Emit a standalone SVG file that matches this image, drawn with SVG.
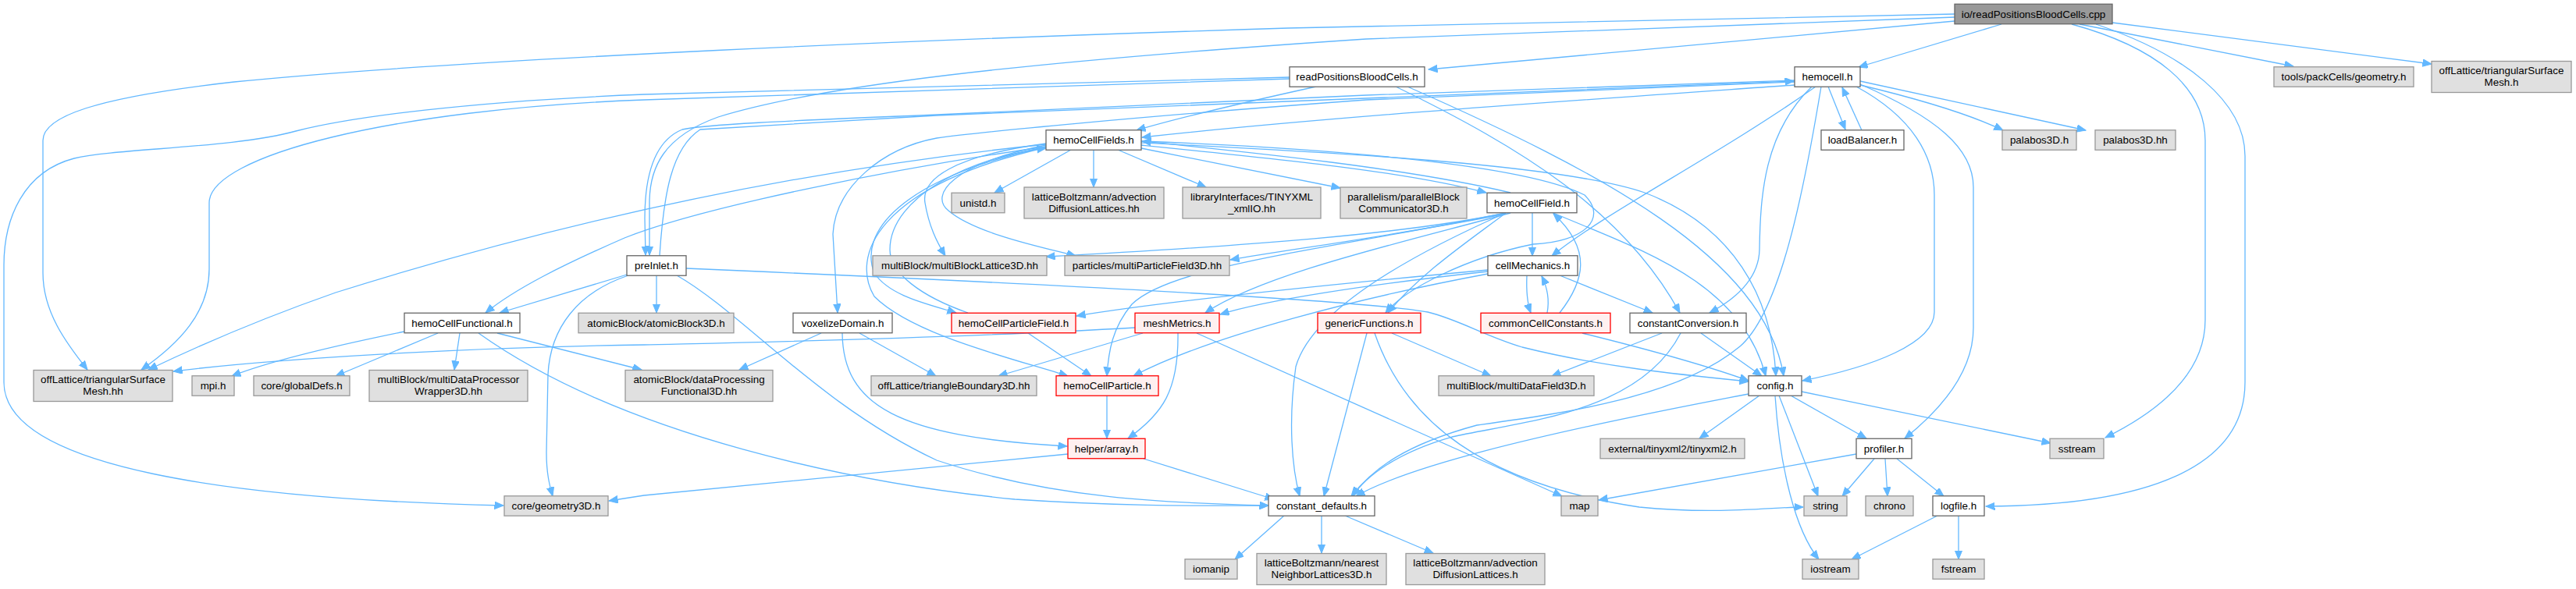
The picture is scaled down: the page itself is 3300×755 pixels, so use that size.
<svg xmlns="http://www.w3.org/2000/svg" width="3300" height="755" viewBox="0 0 3300 755">
<style>
.e{fill:none;stroke:#63b8ff;stroke-width:1.3;marker-end:url(#ah)}
.n rect{stroke-width:1.3}
.w rect{fill:#ffffff;stroke:#666666}
.x rect{fill:#e0e0e0;stroke:#999999}
.r rect{fill:#fff0f0;stroke:#ff0000}
.m rect{fill:#999999;stroke:#666666}
text{font-family:"Liberation Sans",Arial,Helvetica,sans-serif;font-size:13.4px;fill:#000000;text-anchor:middle}
</style>
<defs>
<marker id="ah" markerWidth="13" markerHeight="11" refX="11.5" refY="4.75" orient="auto" markerUnits="userSpaceOnUse">
<path d="M0,0 L11.5,4.75 L0,9.5 z" fill="#63b8ff" stroke="#63b8ff" stroke-width="1"/>
</marker>
</defs>
<rect width="3300" height="755" fill="#ffffff"/>
<g id="edges">
<path class="e" d="M2504,27 L1830,89"/>
<path class="e" d="M2564,31 L2381,86"/>
<path class="e" d="M2664,31 L2938,85"/>
<path class="e" d="M2706,29 L3115,82"/>
<path class="e" d="M2654,31 C2760,60 2825,110 2825,180 L2825,410 C2825,470 2780,520 2697,561"/>
<path class="e" d="M2685,31 C2800,70 2876,130 2876,200 L2876,490 C2876,600 2750,648 2544,649"/>
<path class="e" d="M2504,22 L1750,50 C1300,80 1050,110 920,150 C850,175 832,215 832,260 L832,327"/>
<path class="e" d="M2504,18 L1650,36 C1200,50 600,75 300,105 C120,125 55,150 55,180 L55,350 C55,400 85,440 112,474"/>
<path class="e" d="M1686,111 C1600,130 1520,148 1456,167"/>
<path class="e" d="M1652,101 L825,128 C500,140 268,200 268,260 L268,345 C268,400 230,440 181,474"/>
<path class="e" d="M1652,99 L825,121 C600,130 450,150 379,168 C300,190 150,190 95,203 C30,220 5,280 5,340 L5,490 C5,600 300,640 645,648"/>
<path class="e" d="M1788,111 C1950,190 2080,270 2152,401"/>
<path class="e" d="M1803,111 C2050,220 2260,330 2285,482"/>
<path class="e" d="M2299,109 C2000,130 1700,150 1463,176"/>
<path class="e" d="M2342,111 L2364,166"/>
<path class="e" d="M2385,167 L2360,112"/>
<path class="e" d="M2383,109 C2450,125 2520,145 2566,167"/>
<path class="e" d="M2383,104 L2672,167"/>
<path class="e" d="M2326,111 C2200,200 2060,270 1988,328"/>
<path class="e" d="M2321,111 C2260,170 2255,250 2254,320 C2253,360 2220,385 2190,401"/>
<path class="e" d="M2378,111 C2450,150 2478,200 2478,250 L2478,400 C2478,440 2400,470 2309,488"/>
<path class="e" d="M2383,108 C2480,150 2528,190 2528,240 L2528,420 C2528,480 2480,530 2440,562"/>
<path class="e" d="M2299,103 L1750,122 L1200,147 C1000,155 900,160 874,166 C840,180 826,220 826,280 L827,327"/>
<path class="e" d="M845,328 C850,250 860,190 897,166 L1200,148 L2298,104"/>
<path class="e" d="M2299,105 L1750,128 C1450,150 1250,170 1200,177 C1130,190 1070,240 1067,300 L1073,401"/>
<path class="e" d="M2333,111 C2310,250 2280,400 2229,444 C2150,510 2000,530 1892,545 C1800,570 1760,600 1731,636"/>
<path class="e" d="M1372,192 L1274,247"/>
<path class="e" d="M1401,192 L1401,240"/>
<path class="e" d="M1432,192 L1545,240"/>
<path class="e" d="M1462,190 L1717,241"/>
<path class="e" d="M1462,186 C1650,205 1800,220 1904,247"/>
<path class="e" d="M1935,247 C1800,215 1600,195 1463,181"/>
<path class="e" d="M1340,184 C1220,200 1180,230 1185,260 C1190,290 1200,310 1211,328"/>
<path class="e" d="M1340,186 C1220,210 1190,250 1215,270 C1250,300 1340,318 1378,328"/>
<path class="e" d="M1340,188 C1150,215 900,265 800,305 C720,340 660,370 622,401"/>
<path class="e" d="M1340,185 C1000,220 700,290 430,375 C330,410 240,450 190,474"/>
<path class="e" d="M1340,188 C1150,230 1100,300 1120,350 C1140,380 1190,390 1225,401"/>
<path class="e" d="M1240,401 C1180,380 1140,350 1140,320 C1140,250 1250,200 1340,190"/>
<path class="e" d="M1340,189 C1120,240 1090,330 1120,380 C1170,430 1300,460 1368,482"/>
<path class="e" d="M1462,183 C1700,195 2000,210 2107,247 C2220,290 2270,380 2275,482"/>
<path class="e" d="M1462,181 C1700,190 1950,210 2030,250 C2060,280 2030,310 1964,313 C1880,330 1800,370 1775,401"/>
<path class="e" d="M1963,273 L1963,328"/>
<path class="e" d="M1929,273 C1800,300 1600,315 1340,329"/>
<path class="e" d="M1929,274 C1800,300 1650,320 1576,333"/>
<path class="e" d="M1929,273 C1880,310 1820,350 1778,401"/>
<path class="e" d="M1935,273 C1800,310 1620,350 1544,401"/>
<path class="e" d="M1929,273 C1700,320 1500,340 1450,390 C1425,420 1420,450 1418,482"/>
<path class="e" d="M1990,273 C2100,320 2230,360 2262,482"/>
<path class="e" d="M1929,273 C1800,330 1680,400 1660,470 C1650,540 1655,600 1665,636"/>
<path class="e" d="M1906,346 C1700,365 1500,385 1379,405"/>
<path class="e" d="M1906,348 C1750,365 1620,385 1563,403"/>
<path class="e" d="M1906,351 C1750,380 1550,430 1452,482"/>
<path class="e" d="M1956,353 C1955,375 1957,390 1961,401"/>
<path class="e" d="M1982,401 C1985,385 1983,370 1975,354"/>
<path class="e" d="M1998,401 C2030,360 2040,320 1990,274"/>
<path class="e" d="M1998,353 L2117,401"/>
<path class="e" d="M2027,427 C2120,450 2190,470 2240,488"/>
<path class="e" d="M2129,427 L1988,482"/>
<path class="e" d="M2179,427 L2257,482"/>
<path class="e" d="M2153,427 C2100,530 1950,540 1860,560 C1790,580 1750,610 1733,636"/>
<path class="e" d="M1783,427 L1910,482"/>
<path class="e" d="M1751,427 L1696,636"/>
<path class="e" d="M1761,427 C1800,540 1900,620 2100,650 C2200,660 2270,650 2310,650"/>
<path class="e" d="M1454,420 C1200,435 900,440 825,442 C600,445 350,460 222,476"/>
<path class="e" d="M1464,427 L1279,482"/>
<path class="e" d="M1509,427 C1510,500 1490,530 1445,562"/>
<path class="e" d="M1533,427 L2001,636"/>
<path class="e" d="M1317,427 L1398,482"/>
<path class="e" d="M1052,427 L947,474"/>
<path class="e" d="M1101,427 L1199,482"/>
<path class="e" d="M1079,427 C1080,520 1150,560 1367,572"/>
<path class="e" d="M1418,507 L1418,562"/>
<path class="e" d="M1368,582 L825,635 L780,642"/>
<path class="e" d="M1465,588 L1632,640"/>
<path class="e" d="M803,352 L640,401"/>
<path class="e" d="M841,353 L841,401"/>
<path class="e" d="M805,353 C740,375 705,420 702,480 L700,580 C700,610 705,625 708,636"/>
<path class="e" d="M867,353 C950,400 1050,520 1200,590 C1350,640 1500,645 1625,648"/>
<path class="e" d="M879,344 C1300,362 1750,385 1829,400 C1870,410 1900,430 1950,445 C2050,470 2150,480 2240,489"/>
<path class="e" d="M518,425 C420,445 340,465 297,482"/>
<path class="e" d="M561,427 L430,482"/>
<path class="e" d="M589,427 L582,474"/>
<path class="e" d="M637,427 L822,474"/>
<path class="e" d="M613,427 C800,560 1100,620 1300,640 C1450,650 1550,648 1625,648"/>
<path class="e" d="M2254,507 L2177,562"/>
<path class="e" d="M2294,507 L2391,562"/>
<path class="e" d="M2279,507 L2329,636"/>
<path class="e" d="M2274,507 C2280,600 2300,680 2330,717"/>
<path class="e" d="M2308,502 L2627,568"/>
<path class="e" d="M2240,505 C1950,560 1800,600 1737,636"/>
<path class="e" d="M2378,582 L2048,641"/>
<path class="e" d="M2401,588 L2360,636"/>
<path class="e" d="M2415,588 L2418,636"/>
<path class="e" d="M2430,588 L2490,636"/>
<path class="e" d="M2482,661 L2372,717"/>
<path class="e" d="M2509,661 L2509,717"/>
<path class="e" d="M1645,661 L1582,717"/>
<path class="e" d="M1693,661 L1693,709"/>
<path class="e" d="M1723,661 L1836,709"/>
</g>
<g id="n0" class="n m"><rect x="2504" y="5.25" width="202" height="25.5"/><text x="2605" y="22.7">io/readPositionsBloodCells.cpp</text></g>
<g id="n1" class="n w"><rect x="1652" y="85.75" width="173" height="25.5"/><text x="1738.5" y="103.2">readPositionsBloodCells.h</text></g>
<g id="n2" class="n w"><rect x="2299" y="85.75" width="84" height="25.5"/><text x="2341" y="103.2">hemocell.h</text></g>
<g id="n3" class="n x"><rect x="2913" y="85.75" width="179" height="25.5"/><text x="3002.5" y="103.2">tools/packCells/geometry.h</text></g>
<g id="n4" class="n x"><rect x="3115" y="78.5" width="179" height="40"/><text x="3204.5" y="95">offLattice/triangularSurface</text><text x="3204.5" y="110">Mesh.h</text></g>
<g id="n5" class="n w"><rect x="1340" y="166.75" width="122" height="25.5"/><text x="1401" y="184.2">hemoCellFields.h</text></g>
<g id="n6" class="n w"><rect x="2333" y="166.75" width="106" height="25.5"/><text x="2386" y="184.2">loadBalancer.h</text></g>
<g id="n7" class="n x"><rect x="2565" y="166.75" width="95" height="25.5"/><text x="2612.5" y="184.2">palabos3D.h</text></g>
<g id="n8" class="n x"><rect x="2684" y="166.75" width="103" height="25.5"/><text x="2735.5" y="184.2">palabos3D.hh</text></g>
<g id="n9" class="n x"><rect x="1219" y="247.25" width="68" height="25.5"/><text x="1253" y="264.7">unistd.h</text></g>
<g id="n10" class="n x"><rect x="1312" y="240" width="179" height="40"/><text x="1401.5" y="256.5">latticeBoltzmann/advection</text><text x="1401.5" y="271.5">DiffusionLattices.hh</text></g>
<g id="n11" class="n x"><rect x="1515" y="240" width="177" height="40"/><text x="1603.5" y="256.5">libraryInterfaces/TINYXML</text><text x="1603.5" y="271.5">_xmlIO.hh</text></g>
<g id="n12" class="n x"><rect x="1717" y="240" width="162" height="40"/><text x="1798" y="256.5">parallelism/parallelBlock</text><text x="1798" y="271.5">Communicator3D.h</text></g>
<g id="n13" class="n w"><rect x="1905" y="247.25" width="115" height="25.5"/><text x="1962.5" y="264.7">hemoCellField.h</text></g>
<g id="n14" class="n w"><rect x="803" y="327.75" width="76" height="25.5"/><text x="841" y="345.2">preInlet.h</text></g>
<g id="n15" class="n x"><rect x="1118" y="327.75" width="223" height="25.5"/><text x="1229.5" y="345.2">multiBlock/multiBlockLattice3D.hh</text></g>
<g id="n16" class="n x"><rect x="1364" y="327.75" width="211" height="25.5"/><text x="1469.5" y="345.2">particles/multiParticleField3D.hh</text></g>
<g id="n17" class="n w"><rect x="1906" y="327.75" width="115" height="25.5"/><text x="1963.5" y="345.2">cellMechanics.h</text></g>
<g id="n18" class="n w"><rect x="518" y="401.25" width="148" height="25.5"/><text x="592" y="418.7">hemoCellFunctional.h</text></g>
<g id="n19" class="n x"><rect x="741" y="401.25" width="199" height="25.5"/><text x="840.5" y="418.7">atomicBlock/atomicBlock3D.h</text></g>
<g id="n20" class="n w"><rect x="1016" y="401.25" width="127" height="25.5"/><text x="1079.5" y="418.7">voxelizeDomain.h</text></g>
<g id="n21" class="n r"><rect x="1219" y="401.25" width="159" height="25.5"/><text x="1298.5" y="418.7">hemoCellParticleField.h</text></g>
<g id="n22" class="n r"><rect x="1454" y="401.25" width="108" height="25.5"/><text x="1508" y="418.7">meshMetrics.h</text></g>
<g id="n23" class="n r"><rect x="1688" y="401.25" width="132" height="25.5"/><text x="1754" y="418.7">genericFunctions.h</text></g>
<g id="n24" class="n r"><rect x="1897" y="401.25" width="166" height="25.5"/><text x="1980" y="418.7">commonCellConstants.h</text></g>
<g id="n25" class="n w"><rect x="2088" y="401.25" width="149" height="25.5"/><text x="2162.5" y="418.7">constantConversion.h</text></g>
<g id="n26" class="n x"><rect x="43" y="474.5" width="178" height="40"/><text x="132" y="491">offLattice/triangularSurface</text><text x="132" y="506">Mesh.hh</text></g>
<g id="n27" class="n x"><rect x="246" y="481.75" width="54" height="25.5"/><text x="273" y="499.2">mpi.h</text></g>
<g id="n28" class="n x"><rect x="325" y="481.75" width="123" height="25.5"/><text x="386.5" y="499.2">core/globalDefs.h</text></g>
<g id="n29" class="n x"><rect x="473" y="474.5" width="203" height="40"/><text x="574.5" y="491">multiBlock/multiDataProcessor</text><text x="574.5" y="506">Wrapper3D.hh</text></g>
<g id="n30" class="n x"><rect x="801" y="474.5" width="189" height="40"/><text x="895.5" y="491">atomicBlock/dataProcessing</text><text x="895.5" y="506">Functional3D.hh</text></g>
<g id="n31" class="n x"><rect x="1116" y="481.75" width="212" height="25.5"/><text x="1222" y="499.2">offLattice/triangleBoundary3D.hh</text></g>
<g id="n32" class="n r"><rect x="1353" y="481.75" width="131" height="25.5"/><text x="1418.5" y="499.2">hemoCellParticle.h</text></g>
<g id="n33" class="n x"><rect x="1843" y="481.75" width="199" height="25.5"/><text x="1942.5" y="499.2">multiBlock/multiDataField3D.h</text></g>
<g id="n34" class="n w"><rect x="2240" y="481.75" width="68" height="25.5"/><text x="2274" y="499.2">config.h</text></g>
<g id="n35" class="n r"><rect x="1368" y="562.25" width="99" height="25.5"/><text x="1417.5" y="579.7">helper/array.h</text></g>
<g id="n36" class="n x"><rect x="2050" y="562.25" width="185" height="25.5"/><text x="2142.5" y="579.7">external/tinyxml2/tinyxml2.h</text></g>
<g id="n37" class="n w"><rect x="2378" y="562.25" width="71" height="25.5"/><text x="2413.5" y="579.7">profiler.h</text></g>
<g id="n38" class="n x"><rect x="2626" y="562.25" width="69" height="25.5"/><text x="2660.5" y="579.7">sstream</text></g>
<g id="n39" class="n x"><rect x="646" y="635.75" width="133" height="25.5"/><text x="712.5" y="653.2">core/geometry3D.h</text></g>
<g id="n40" class="n w"><rect x="1625" y="635.75" width="136" height="25.5"/><text x="1693" y="653.2">constant_defaults.h</text></g>
<g id="n41" class="n x"><rect x="2000" y="635.75" width="47" height="25.5"/><text x="2023.5" y="653.2">map</text></g>
<g id="n42" class="n x"><rect x="2311" y="635.75" width="55" height="25.5"/><text x="2338.5" y="653.2">string</text></g>
<g id="n43" class="n x"><rect x="2390" y="635.75" width="61" height="25.5"/><text x="2420.5" y="653.2">chrono</text></g>
<g id="n44" class="n w"><rect x="2476" y="635.75" width="66" height="25.5"/><text x="2509" y="653.2">logfile.h</text></g>
<g id="n45" class="n x"><rect x="1518" y="716.75" width="67" height="25.5"/><text x="1551.5" y="734.2">iomanip</text></g>
<g id="n46" class="n x"><rect x="1610" y="709.5" width="166" height="40"/><text x="1693" y="726">latticeBoltzmann/nearest</text><text x="1693" y="741">NeighborLattices3D.h</text></g>
<g id="n47" class="n x"><rect x="1801" y="709.5" width="178" height="40"/><text x="1890" y="726">latticeBoltzmann/advection</text><text x="1890" y="741">DiffusionLattices.h</text></g>
<g id="n48" class="n x"><rect x="2309" y="716.75" width="72" height="25.5"/><text x="2345" y="734.2">iostream</text></g>
<g id="n49" class="n x"><rect x="2476" y="716.75" width="66" height="25.5"/><text x="2509" y="734.2">fstream</text></g>
</svg>
